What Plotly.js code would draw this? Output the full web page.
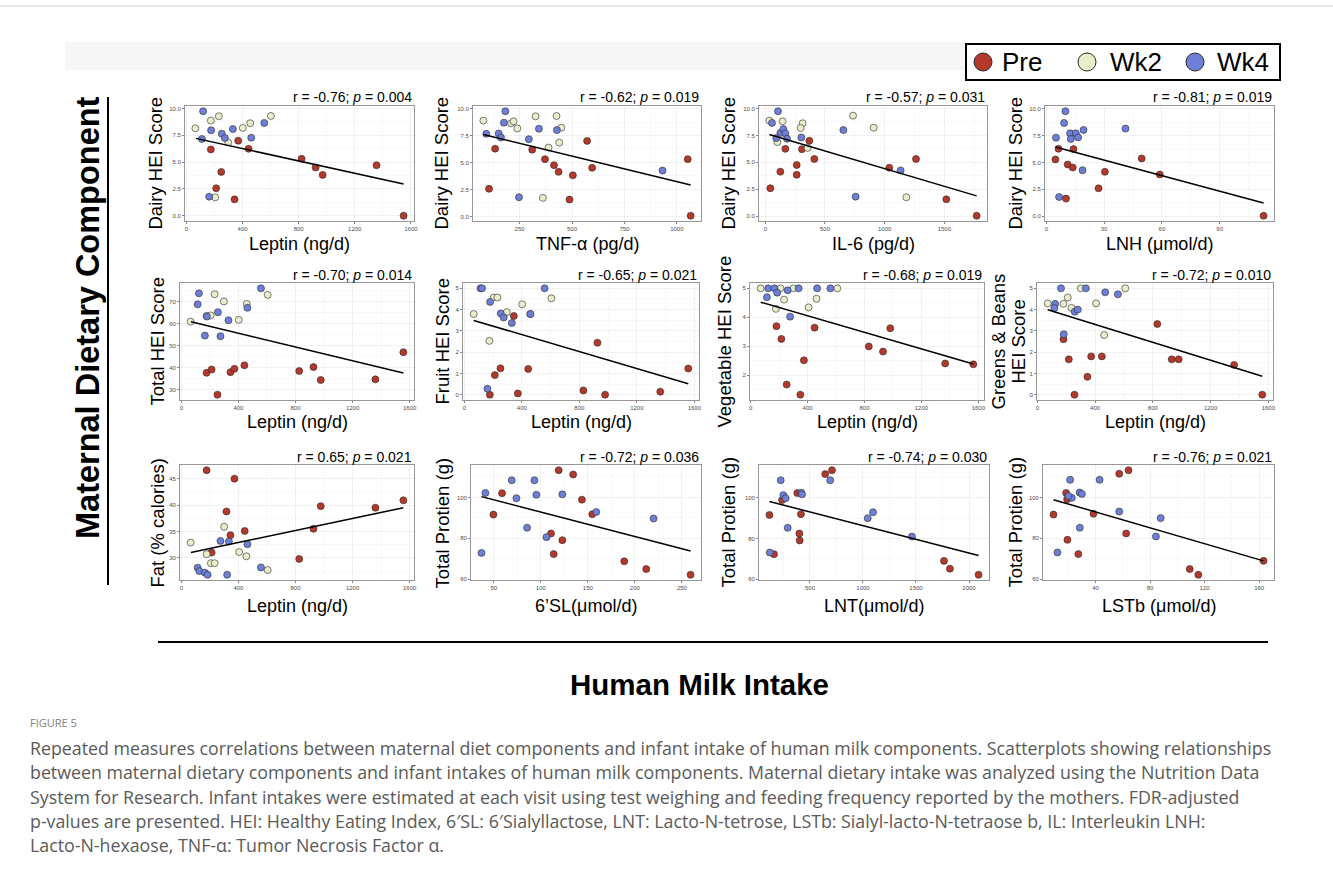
<!DOCTYPE html>
<html><head><meta charset="utf-8">
<script src="https://cdn.plot.ly/plotly-3.0.1.min.js"></script>
<style>html,body{margin:0;padding:0;background:#fff;} #chart{width:1333px;height:879px;}</style>
</head><body><div id="chart"></div>
<script>
// ---------------- DATA ----------------
// Panel 1: Dairy HEI Score vs Leptin (ng/d)
const p1PreX = [174, 369, 443, 248, 212, 343, 821, 921, 971, 1355, 1548];
const p1PreY = [6.19, 7.0, 6.25, 4.09, 2.56, 1.53, 5.31, 4.5, 3.81, 4.72, 0.0];
const p1Wk2X = [64, 174, 231, 298, 402, 455, 602, 205];
const p1Wk2Y = [8.16, 8.88, 9.28, 6.84, 8.19, 8.63, 9.31, 1.72];
const p1Wk4X = [119, 110, 176, 252, 274, 331, 462, 555, 162];
const p1Wk4Y = [9.75, 7.16, 7.97, 7.66, 7.25, 8.09, 7.28, 8.66, 1.78];
const p1FitX = [67, 1548];
const p1FitY = [7.22, 2.97];
// Panel 2: Dairy HEI Score vs TNF-α (pg/d)
const p2PreX = [133, 104, 310, 371, 414, 436, 504, 572, 596, 488, 1052, 1066];
const p2PreY = [6.28, 2.56, 6.19, 5.31, 4.75, 4.13, 3.81, 7.0, 4.5, 1.56, 5.31, 0.06];
const p2Wk2X = [77, 209, 221, 239, 326, 426, 449, 439, 388, 361];
const p2Wk2Y = [8.88, 8.63, 8.81, 8.16, 9.28, 9.31, 8.22, 6.84, 6.38, 1.72];
const p2Wk4X = [182, 175, 91, 150, 161, 294, 342, 428, 932, 247];
const p2Wk4Y = [9.75, 8.69, 7.66, 7.69, 7.31, 7.16, 8.13, 8.0, 4.25, 1.78];
const p2FitX = [77, 1066];
const p2FitY = [7.59, 2.91];
// Panel 3: Dairy HEI Score vs IL-6 (pg/d)
const p3PreX = [168, 369, 307, 411, 263, 263, 126, 42, 1039, 1263, 1517, 1771];
const p3PreY = [6.25, 7.0, 6.22, 5.31, 4.75, 3.84, 4.13, 2.59, 4.5, 5.31, 1.56, 0.03];
const p3Wk2X = [34, 145, 313, 296, 101, 355, 735, 908, 1182];
const p3Wk2Y = [8.88, 8.81, 8.63, 8.19, 6.88, 6.34, 9.34, 8.22, 1.75];
const p3Wk4X = [106, 56, 126, 151, 168, 92, 182, 302, 654, 1134, 757];
const p3Wk4Y = [9.75, 8.66, 7.72, 8.09, 7.69, 7.25, 7.19, 7.31, 8.0, 4.25, 1.81];
const p3FitX = [34, 1771];
const p3FitY = [7.59, 1.88];
// Panel 4: Dairy HEI Score vs LNH (μmol/d)
const p4PreX = [6.3, 14.1, 4.7, 11.1, 13.7, 30.4, 27.1, 10.2, 49.5, 58.9, 112.8];
const p4PreY = [6.28, 6.25, 5.28, 4.81, 4.53, 4.13, 2.59, 1.63, 5.38, 3.88, 0.03];
const p4Wk4X = [9.9, 9.2, 12.3, 15.3, 19.3, 41.1, 5.0, 12.7, 16.5, 18.8, 6.6];
const p4Wk4Y = [9.78, 8.69, 7.72, 7.72, 8.03, 8.16, 7.31, 7.19, 7.34, 4.28, 1.78];
const p4FitX = [4.7, 112.8];
const p4FitY = [6.44, 1.22];
// Panel 5: Total HEI Score vs Leptin
const p5PreX = [177, 212, 253, 344, 372, 442, 826, 926, 977, 1360, 1556];
const p5PreY = [37.6, 39.1, 27.6, 37.9, 39.4, 41.0, 38.4, 40.2, 34.3, 34.6, 47.0];
const p5Wk2X = [65, 177, 205, 233, 298, 402, 458, 605];
const p5Wk2Y = [61.0, 63.6, 63.8, 73.5, 70.2, 61.8, 69.1, 73.2];
const p5Wk4X = [123, 114, 179, 256, 330, 165, 274, 463, 558];
const p5Wk4Y = [73.9, 68.9, 63.3, 65.3, 61.6, 54.6, 54.3, 67.3, 76.2];
const p5FitX = [67, 1556];
const p5FitY = [60.9, 37.5];
// Panel 6: Fruit HEI Score vs Leptin
const p6PreX = [344, 177, 212, 251, 372, 444, 828, 926, 979, 1363, 1558];
const p6PreY = [3.70, 0.0, 0.92, 1.24, 0.06, 1.21, 0.20, 2.44, 0.0, 0.14, 1.23];
const p6Wk2X = [65, 205, 230, 295, 402, 458, 605, 174];
const p6Wk2Y = [3.79, 4.57, 4.57, 3.88, 4.25, 3.79, 4.53, 2.53];
const p6Wk4X = [112, 123, 179, 253, 274, 330, 460, 558, 160];
const p6Wk4Y = [5.0, 5.0, 4.36, 3.82, 3.63, 3.37, 3.79, 5.0, 0.28];
const p6FitX = [65, 1558];
const p6FitY = [3.49, 0.51];
// Panel 7: Vegetable HEI Score vs Leptin
const p7PreX = [181, 216, 449, 374, 253, 349, 830, 930, 981, 1367, 1565];
const p7PreY = [3.69, 3.25, 3.64, 2.51, 1.67, 1.32, 2.99, 2.81, 3.62, 2.40, 2.37];
const p7Wk2X = [70, 209, 300, 609, 235, 177, 407, 463];
const p7Wk2Y = [5.0, 5.0, 5.0, 5.0, 4.61, 4.29, 4.34, 4.64];
const p7Wk4X = [114, 123, 167, 186, 260, 337, 467, 560, 277];
const p7Wk4Y = [4.69, 5.0, 5.0, 4.85, 4.93, 5.0, 5.0, 5.0, 4.02];
const p7FitX = [70, 1565];
const p7FitY = [4.52, 2.38];
// Panel 8: Greens & Beans HEI Score vs Leptin
const p8PreX = [181, 218, 257, 347, 373, 447, 831, 931, 979, 1363, 1558];
const p8PreY = [2.61, 1.66, 0.0, 0.84, 1.80, 1.80, 3.32, 1.66, 1.66, 1.40, 0.0];
const p8Wk2X = [72, 181, 211, 236, 301, 407, 463, 609];
const p8Wk2Y = [4.29, 4.27, 4.57, 4.08, 5.0, 4.29, 2.80, 5.0];
const p8Wk4X = [123, 118, 164, 336, 259, 280, 183, 470, 558];
const p8Wk4Y = [4.27, 4.07, 5.0, 5.0, 3.90, 4.0, 2.84, 4.81, 4.72];
const p8FitX = [72, 1558];
const p8FitY = [3.99, 0.87];
// Panel 9: Fat (% calories) vs Leptin
const p9PreX = [177, 372, 316, 344, 444, 212, 826, 926, 977, 1360, 1556];
const p9PreY = [46.6, 45.0, 38.8, 34.3, 35.1, 31.0, 29.8, 35.5, 39.8, 39.5, 40.9];
const p9Wk2X = [65, 177, 207, 233, 300, 405, 456, 605];
const p9Wk2Y = [32.9, 30.7, 29.0, 29.0, 35.9, 31.1, 30.3, 27.7];
const p9Wk4X = [114, 126, 165, 184, 321, 274, 333, 463, 558];
const p9Wk4Y = [28.15, 27.5, 27.2, 26.8, 26.8, 33.2, 33.1, 32.6, 28.2];
const p9FitX = [67, 1556];
const p9FitY = [31.0, 39.5];
// Panel 10: Total Protien (g) vs 6'SL (μmol/d)
const p10PreX = [49.6, 58.8, 110.9, 113.7, 119.0, 122.9, 134.4, 143.7, 154.7, 188.7, 212.1, 259.2];
const p10PreY = [91.6, 102.1, 82.4, 72.3, 113.3, 79.1, 111.2, 98.9, 91.8, 68.8, 65.0, 62.2];
const p10Wk4X = [36.9, 41.1, 69.1, 74.1, 85.4, 93.2, 95.3, 106.0, 122.9, 159.0, 219.9];
const p10Wk4Y = [72.9, 102.2, 108.4, 99.6, 85.2, 108.4, 101.3, 80.6, 101.5, 92.9, 89.7];
const p10FitX = [36.9, 259.2];
const p10FitY = [100.4, 73.8];
// Panel 11: Total Protien (g) vs LNT (μmol/d)
const p11PreX = [118, 161, 237, 381, 400, 403, 415, 644, 708, 1764, 1820, 2090];
const p11PreY = [91.5, 72.3, 98.8, 102.2, 82.4, 79.0, 91.9, 111.5, 113.4, 69.0, 65.2, 62.2];
const p11Wk4X = [121, 224, 249, 271, 290, 418, 425, 691, 1045, 1095, 1462];
const p11Wk4Y = [73.1, 108.5, 101.2, 99.7, 85.2, 102.4, 101.6, 108.5, 89.9, 92.8, 80.9];
const p11FitX = [118, 2090];
const p11FitY = [98.1, 71.6];
// Panel 12: Total Protien (g) vs LSTb (μmol/d)
const p12PreX = [9.2, 18.5, 19.2, 19.4, 27.4, 38.5, 57.4, 64.2, 62.5, 109.1, 115.4, 163.2];
const p12PreY = [91.6, 102.2, 99.1, 79.3, 72.3, 92.0, 111.6, 113.3, 82.4, 65.0, 62.2, 69.0];
const p12Wk4X = [12.1, 21.4, 22.6, 28.3, 30.0, 28.5, 43.0, 57.4, 84.3, 87.8, 20.2];
const p12Wk4Y = [73.1, 108.6, 99.8, 102.4, 101.7, 85.2, 108.6, 93.1, 80.9, 89.9, 100.7];
const p12FitX = [9.2, 163.2];
const p12FitY = [98.9, 69.0];

const groupNames = ['Pre', 'Wk2', 'Wk4'];
const panelTitles = ['r = -0.76; <i>p</i> = 0.004', 'r = -0.62; <i>p</i> = 0.019', 'r = -0.57; <i>p</i> = 0.031', 'r = -0.81; <i>p</i> = 0.019',
  'r = -0.70; <i>p</i> = 0.014', 'r = -0.65; <i>p</i> = 0.021', 'r = -0.68; <i>p</i> = 0.019', 'r = -0.72; <i>p</i> = 0.010',
  'r = 0.65; <i>p</i> = 0.021', 'r = -0.72; <i>p</i> = 0.036', 'r = -0.74; <i>p</i> = 0.030', 'r = -0.76; <i>p</i> = 0.021'];
const xTitles = ['Leptin (ng/d)', 'TNF-α (pg/d)', 'IL-6 (pg/d)', 'LNH (μmol/d)', 'Leptin (ng/d)', 'Leptin (ng/d)', 'Leptin (ng/d)', 'Leptin (ng/d)',
  'Leptin (ng/d)', '6’SL(μmol/d)', 'LNT(μmol/d)', 'LSTb (μmol/d)'];
const yTitles = ['Dairy HEI Score', 'Dairy HEI Score', 'Dairy HEI Score', 'Dairy HEI Score', 'Total HEI Score', 'Fruit HEI Score', 'Vegetable HEI Score',
  ['Greens &amp; Beans', 'HEI Score'], 'Fat (% calories)', 'Total Protien (g)', 'Total Protien (g)', 'Total Protien (g)'];
const captionLines = [
  'Repeated measures correlations between maternal diet components and infant intake of human milk components. Scatterplots showing relationships',
  'between maternal dietary components and infant intakes of human milk components. Maternal dietary intake was analyzed using the Nutrition Data',
  'System for Research. Infant intakes were estimated at each visit using test weighing and feeding frequency reported by the mothers. FDR-adjusted',
  'p-values are presented. HEI: Healthy Eating Index, 6′SL: 6′Sialyllactose, LNT: Lacto-N-tetrose, LSTb: Sialyl-lacto-N-tetraose b, IL: Interleukin LNH:',
  'Lacto-N-hexaose, TNF-α: Tumor Necrosis Factor α.'];

// ---------------- LAYOUT ----------------
const W = 1333, H = 879;
const px = v => v / W, py = v => 1 - v / H;
const COL = { Pre: '#B3392A', Wk2: '#E9EDCA', Wk4: '#6E7FD8' };
const FONT = 'Liberation Sans, Arial, sans-serif';

const panels = [
  { g: [[p1PreX, p1PreY], [p1Wk2X, p1Wk2Y], [p1Wk4X, p1Wk4Y]], f: [p1FitX, p1FitY], box: [185, 414, 106, 221], ytx: 155, dx: 400, dy: 2.5, yf: '.1f' },
  { g: [[p2PreX, p2PreY], [p2Wk2X, p2Wk2Y], [p2Wk4X, p2Wk4Y]], f: [p2FitX, p2FitY], box: [473, 701, 106, 221], ytx: 441, dx: 250, dy: 2.5, yf: '.1f' },
  { g: [[p3PreX, p3PreY], [p3Wk2X, p3Wk2Y], [p3Wk4X, p3Wk4Y]], f: [p3FitX, p3FitY], box: [759, 987, 106, 221], ytx: 728, dx: 500, dy: 2.5, yf: '.1f' },
  { g: [[p4PreX, p4PreY], null, [p4Wk4X, p4Wk4Y]], f: [p4FitX, p4FitY], box: [1045, 1274, 106, 221], ytx: 1015, dx: 30, dy: 2.5, yf: '.1f' },
  { g: [[p5PreX, p5PreY], [p5Wk2X, p5Wk2Y], [p5Wk4X, p5Wk4Y]], f: [p5FitX, p5FitY], box: [180, 414, 283, 400], ytx: 157, dx: 400, dy: 10, yf: '' },
  { g: [[p6PreX, p6PreY], [p6Wk2X, p6Wk2Y], [p6Wk4X, p6Wk4Y]], f: [p6FitX, p6FitY], box: [463, 699, 283, 400], ytx: 442, dx: 400, dy: 1, yf: '' },
  { g: [[p7PreX, p7PreY], [p7Wk2X, p7Wk2Y], [p7Wk4X, p7Wk4Y]], f: [p7FitX, p7FitY], box: [750, 984, 283, 400], ytx: 724, dx: 400, dy: 1, yf: '' },
  { g: [[p8PreX, p8PreY], [p8Wk2X, p8Wk2Y], [p8Wk4X, p8Wk4Y]], f: [p8FitX, p8FitY], box: [1037, 1273, 283, 400], ytx: [998, 1018], dx: 400, dy: 1, yf: '' },
  { g: [[p9PreX, p9PreY], [p9Wk2X, p9Wk2Y], [p9Wk4X, p9Wk4Y]], f: [p9FitX, p9FitY], box: [180, 414, 465, 580], ytx: 157, dx: 400, dy: 5, yf: '' },
  { g: [[p10PreX, p10PreY], null, [p10Wk4X, p10Wk4Y]], f: [p10FitX, p10FitY], box: [471, 701, 465, 580], ytx: 442, dx: 50, dy: 20, yf: '' },
  { g: [[p11PreX, p11PreY], null, [p11Wk4X, p11Wk4Y]], f: [p11FitX, p11FitY], box: [759, 989, 465, 580], ytx: 728, dx: 500, dy: 20, yf: '' },
  { g: [[p12PreX, p12PreY], null, [p12Wk4X, p12Wk4Y]], f: [p12FitX, p12FitY], box: [1043, 1274, 465, 580], ytx: 1015, dx: 40, dy: 20, yf: '' }
];
const xTitleY = [244, 422, 606];

function expand(v) { const mn = Math.min(...v), mx = Math.max(...v), s = (mx - mn) * 0.05; return [mn - s, mx + s]; }

const traces = [];
const layout = {
  width: W, height: H, margin: { l: 0, r: 0, t: 0, b: 0 },
  paper_bgcolor: '#fff', plot_bgcolor: '#fff', font: { family: FONT, color: '#000' },
  showlegend: false,
  annotations: [], shapes: []
};

panels.forEach((p, i) => {
  const n = i + 1, sx = n === 1 ? '' : String(n);
  const xa = 'x' + sx, ya = 'y' + sx;
  const allX = [...p.f[0]], allY = [...p.f[1]];
  p.g.forEach((arr, gi) => {
    if (!arr) return;
    allX.push(...arr[0]); allY.push(...arr[1]);
    traces.push({
      type: 'scatter', mode: 'markers', x: arr[0], y: arr[1], xaxis: xa, yaxis: ya, name: groupNames[gi], showlegend: false, hoverinfo: 'skip',
      marker: { size: 7, color: COL[groupNames[gi]], line: { color: '#2a2a2a', width: 0.6 } }
    });
  });
  traces.push({ type: 'scatter', mode: 'lines', x: p.f[0], y: p.f[1], xaxis: xa, yaxis: ya, showlegend: false, hoverinfo: 'skip', line: { color: '#000', width: 1.5 } });

  const [l, r, t, b] = p.box;
  const common = {
    ticks: 'outside', ticklen: 2, tickwidth: 0.6, tickcolor: '#333',
    tickfont: { size: 6, color: '#4D4D4D', family: FONT },
    showline: true, mirror: true, linecolor: '#8C8C8C', linewidth: 0.9,
    showgrid: true, gridcolor: '#EBEBEB', gridwidth: 0.7, zeroline: false, fixedrange: true,
    tickmode: 'linear', tick0: 0
  };
  layout['xaxis' + sx] = Object.assign({}, common, {
    domain: [px(l), px(r)], range: expand(allX), anchor: ya, dtick: p.dx,
    minor: { tick0: 0, dtick: p.dx / 2, showgrid: true, gridcolor: '#F4F4F4', gridwidth: 0.5, ticks: '' }
  });
  layout['yaxis' + sx] = Object.assign({}, common, {
    domain: [py(b), py(t)], range: expand(allY), anchor: xa, dtick: p.dy, tickformat: p.yf,
    minor: { tick0: 0, dtick: p.dy / 2, showgrid: true, gridcolor: '#F4F4F4', gridwidth: 0.5, ticks: '' }
  });

  layout.annotations.push({ xref: 'paper', yref: 'paper', x: px(r), y: py(t - 8.5), xanchor: 'right', yanchor: 'middle',
    text: panelTitles[i], showarrow: false, font: { size: 14, family: FONT, color: '#000' } });
  const row = Math.floor(i / 4);
  layout.annotations.push({ xref: 'paper', yref: 'paper', x: px((l + r) / 2), y: py(xTitleY[row]), xanchor: 'center', yanchor: 'middle',
    text: xTitles[i], showarrow: false, font: { size: 18, family: FONT, color: '#000' } });
  const yt = yTitles[i];
  if (Array.isArray(yt)) {
    yt.forEach((s, k) => layout.annotations.push({ xref: 'paper', yref: 'paper', x: px(p.ytx[k]), y: py((t + b) / 2), xanchor: 'center', yanchor: 'middle',
      text: s, textangle: -90, showarrow: false, font: { size: 18.5, family: FONT, color: '#000' } }));
  } else {
    layout.annotations.push({ xref: 'paper', yref: 'paper', x: px(p.ytx), y: py((t + b) / 2), xanchor: 'center', yanchor: 'middle',
      text: yt, textangle: -90, showarrow: false, font: { size: 18.5, family: FONT, color: '#000' } });
  }
});

// decorations
layout.shapes.push(
  { type: 'line', xref: 'paper', yref: 'paper', x0: 0, x1: 1, y0: py(6), y1: py(6), line: { color: '#D0D0D0', width: 1 } },
  { type: 'rect', xref: 'paper', yref: 'paper', x0: px(65), x1: px(965), y0: py(70), y1: py(42), fillcolor: '#F6F6F6', line: { width: 0 }, layer: 'below' },
  { type: 'line', xref: 'paper', yref: 'paper', x0: px(108), x1: px(108), y0: py(97), y1: py(585), line: { color: '#000', width: 2 } },
  { type: 'line', xref: 'paper', yref: 'paper', x0: px(158), x1: px(1268), y0: py(642), y1: py(642), line: { color: '#000', width: 2 } },
  // legend box
  { type: 'rect', xref: 'paper', yref: 'paper', x0: px(966), x1: px(1280), y0: py(80), y1: py(44), fillcolor: '#fff', line: { color: '#000', width: 2 } }
);
// legend keys + labels
const legKeyX = [983, 1087, 1195], legTextX = [1000, 1108, 1215];
groupNames.forEach((g, k) => {
  layout.shapes.push({ type: 'circle', xref: 'paper', yref: 'paper', x0: px(legKeyX[k] - 9), x1: px(legKeyX[k] + 9), y0: py(71), y1: py(53),
    fillcolor: COL[g], line: { color: '#2a2a2a', width: 1 } });
  layout.annotations.push({ xref: 'paper', yref: 'paper', x: px(legTextX[k]), y: py(62), xanchor: 'left', yanchor: 'middle', showarrow: false,
    text: g, font: { size: 26, family: FONT, color: '#000' } });
});
layout.annotations.push(
  { xref: 'paper', yref: 'paper', x: px(88), y: py(318), xanchor: 'center', yanchor: 'middle', textangle: -90, showarrow: false,
    text: '<b>Maternal Dietary Component</b>', font: { size: 32.5, family: FONT, color: '#000' } },
  { xref: 'paper', yref: 'paper', x: px(699), y: py(684), xanchor: 'center', yanchor: 'middle', showarrow: false,
    text: '<b>Human Milk Intake</b>', font: { size: 29.5, family: FONT, color: '#000' } },
  { xref: 'paper', yref: 'paper', x: px(28), y: py(722), xanchor: 'left', yanchor: 'middle', showarrow: false,
    text: 'FIGURE 5', font: { size: 11, family: 'Open Sans, sans-serif', color: '#808080' } }
);
const capY = [748, 772, 797, 821, 845];
captionLines.forEach((s, k) => layout.annotations.push({ xref: 'paper', yref: 'paper', x: px(28), y: py(capY[k]), xanchor: 'left', yanchor: 'middle',
  showarrow: false, text: s, font: { size: 17.8, family: 'Open Sans, sans-serif', color: '#5A5A5A' } }));

Plotly.newPlot('chart', traces, layout, { displayModeBar: false, staticPlot: true });
</script></body></html>
